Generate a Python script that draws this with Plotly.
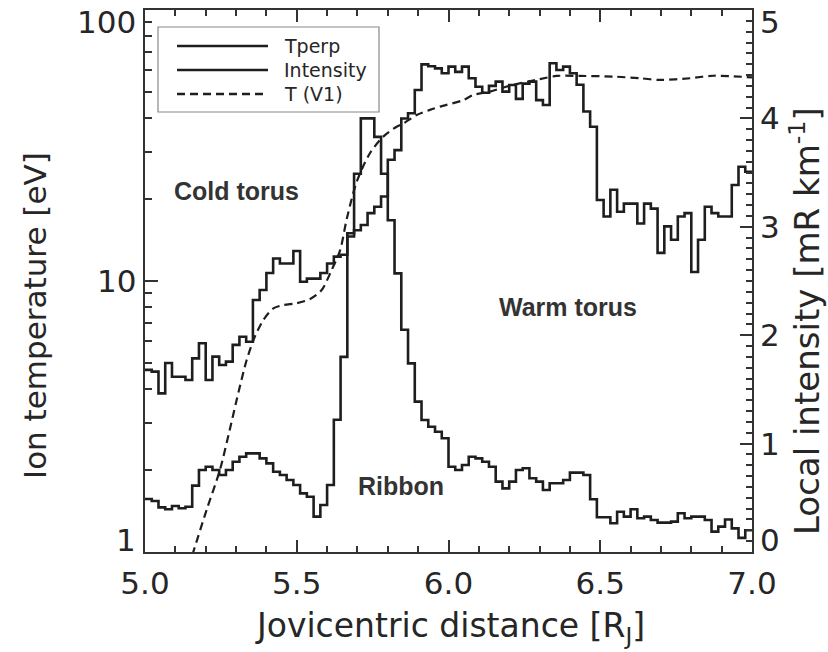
import math
import plotly.graph_objects as go

# ---------------- data ----------------
x_start, x_end = 5.0, 7.0

# Tperp [eV] per radial bin (stepped histogram, left log axis)
tperp = [4.7, 4.63, 3.85, 4.98, 4.43, 4.43, 4.31, 5.18, 5.89, 4.31,
         5.26, 4.90, 5.04, 5.81, 6.23, 5.97, 8.51, 9.26, 10.7, 12.1,
         11.6, 11.6, 12.9, 9.94, 10.2, 10.2, 10.7, 11.6, 12.3, 12.5,
         15.0, 15.4, 16.1, 17.8, 18.8, 20.5, 28.0, 30.4, 39.8, 41.6,
         50.7, 63.0, 62.0, 60.9, 58.4, 61.8, 59.1, 61.8, 56.0, 52.1,
         49.5, 52.5, 54.4, 50.0, 52.9, 47.0, 53.5, 54.4, 46.5, 44.6,
         63.6, 60.1, 61.8, 58.4, 53.0, 42.2, 37.1, 19.9, 17.3, 21.7,
         18.0, 19.3, 19.3, 16.3, 19.3, 18.5, 12.7, 15.9, 14.2, 17.3,
         17.8, 10.8, 14.2, 18.8, 17.8, 17.3, 17.3, 22.6, 26.4, 25.3]

# Local intensity [mR km^-1] per radial bin (stepped histogram, right axis)
intensity = [0.489, 0.470, 0.412, 0.394, 0.424, 0.403, 0.418, 0.612, 0.756, 0.787,
             0.756, 0.710, 0.756, 0.833, 0.879, 0.910, 0.910, 0.864, 0.818, 0.741,
             0.710, 0.664, 0.618, 0.541, 0.510, 0.326, 0.434, 0.618, 1.22, 1.80,
             2.91, 3.49, 4.00, 4.00, 3.83, 3.49, 3.06, 2.57, 2.05, 1.74,
             1.387, 1.218, 1.156, 1.110, 1.049, 0.787, 0.756, 0.803, 0.879, 0.864,
             0.833, 0.787, 0.649, 0.587, 0.649, 0.756, 0.772, 0.680, 0.649, 0.572,
             0.634, 0.634, 0.664, 0.732, 0.732, 0.710, 0.486, 0.320, 0.320, 0.265,
             0.372, 0.326, 0.394, 0.311, 0.326, 0.295, 0.271, 0.271, 0.280, 0.357,
             0.311, 0.326, 0.326, 0.295, 0.188, 0.234, 0.300, 0.218, 0.130, 0.200]

# T (V1) model curve
tv1_x = [5.13, 5.159, 5.203, 5.247, 5.280, 5.302, 5.335, 5.362, 5.390, 5.423,
         5.456, 5.500, 5.544, 5.582, 5.615, 5.643, 5.665, 5.698, 5.741, 5.785,
         5.829, 5.851, 5.895, 5.939, 5.972, 6.049, 6.082, 6.137, 6.200, 6.301,
         6.356, 6.433, 6.543, 6.631, 6.697, 6.796, 6.872, 7.0]
tv1_t = [0.79, 1.0, 1.43, 2.01, 2.85, 3.64, 5.11, 6.23, 7.18, 7.93,
         8.15, 8.28, 8.58, 9.26, 10.98, 13.0, 17.0, 23.3, 29.6, 34.1,
         37.1, 38.1, 41.0, 42.8, 44.0, 46.5, 48.6, 50.0, 52.5, 55.6,
         57.1, 57.1, 56.8, 56.0, 55.2, 56.0, 57.2, 56.4]

x_ticks = [5.0, 5.5, 6.0, 6.5, 7.0]
left_ticks = [1, 10, 100]
right_ticks = [0, 1, 2, 3, 4, 5]
# label anchor positions: the end labels sit just inside the frame, as in the original
left_label_pos = [1.107, 10, 90.3]
right_label_pos = [0.11, 1, 2, 3, 4, 4.89]


def step_xy(vals):
    n = len(vals)
    w = (x_end - x_start) / n
    xs = [x_start + i * w for i in range(n + 1)]
    ys = list(vals) + [vals[-1]]
    return xs, ys


FONT = "DejaVu Sans"
INK = "#1e1e1e"
TXT = "#262626"

fig = go.Figure()
tx, ty = step_xy(tperp)
fig.add_trace(go.Scatter(x=tx, y=ty, mode="lines", line=dict(shape="hv", color=INK, width=2.6),
                         name="Tperp", yaxis="y"))
ix, iy = step_xy(intensity)
fig.add_trace(go.Scatter(x=ix, y=iy, mode="lines", line=dict(shape="hv", color=INK, width=2.6),
                         name="Intensity", yaxis="y2"))
fig.add_trace(go.Scatter(x=tv1_x, y=tv1_t, mode="lines",
                         line=dict(shape="spline", smoothing=0.8, color=INK, width=2.2, dash="8px,5px"),
                         name="T (V1)", yaxis="y"))

L, R, T, B = 145, 76, 10, 100
W, H = 828, 652
pw, ph = W - L - R, H - T - B


def px(xp):
    return (xp - L) / pw


def py(yp):
    return (H - B - yp) / ph


frame = dict(showline=True, linewidth=2, linecolor="#333", showgrid=False, zeroline=False,
             ticks="inside", tickwidth=2, tickcolor="#333")
minor_log = [v * d for d in (1, 10) for v in range(2, 10)]

fig.update_layout(
    width=W, height=H,
    margin=dict(l=L, r=R, t=T, b=B, autoexpand=False),
    paper_bgcolor="white", plot_bgcolor="white",
    showlegend=False,
    font=dict(family=FONT, color=TXT),
    xaxis=dict(range=[x_start, x_end], tickvals=x_ticks, ticktext=[f"{v:.1f}" for v in x_ticks],
               ticklen=12, mirror="ticks", ticklabelstandoff=3,
               tickfont=dict(family=FONT, size=31, color=TXT),
               minor=dict(dtick=0.1, ticks="inside", ticklen=6, tickwidth=1.5, tickcolor="#333"),
               **frame),
    yaxis=dict(type="log", range=[0, 2], tickvals=left_ticks, showticklabels=False, ticklen=13,
               minor=dict(tickvals=minor_log, ticks="inside", ticklen=7, tickwidth=1.5, tickcolor="#333"),
               **frame),
    yaxis2=dict(overlaying="y", side="right", range=[0, 5], tickvals=right_ticks,
                showticklabels=False, ticklen=12,
                minor=dict(dtick=0.1, ticks="inside", ticklen=6, tickwidth=1.5, tickcolor="#333"),
                **frame),
)

# y tick labels (end labels kept inside the frame, as in the original)
for v, pos in zip(left_ticks, left_label_pos):
    fig.add_annotation(x=px(138), y=math.log10(pos), xref="paper", yref="y", text=str(v),
                       showarrow=False, xanchor="right", yanchor="middle",
                       font=dict(family=FONT, size=31, color=TXT))
for v, pos in zip(right_ticks, right_label_pos):
    fig.add_annotation(x=px(758), y=pos, xref="paper", yref="y2", text=str(v),
                       showarrow=False, xanchor="left", yanchor="middle",
                       font=dict(family=FONT, size=31, color=TXT))

# axis titles
fig.add_annotation(x=px(450), y=py(627), xref="paper", yref="paper", showarrow=False,
                   xanchor="center", yanchor="middle",
                   text="Jovicentric distance [R<sub>J</sub>]",
                   font=dict(family=FONT, size=33, color=TXT))
fig.add_annotation(x=px(35), y=py(316), xref="paper", yref="paper", showarrow=False, textangle=-90,
                   xanchor="center", yanchor="middle",
                   text="Ion temperature [eV]", font=dict(family=FONT, size=31, color=TXT))
fig.add_annotation(x=px(805), y=py(321), xref="paper", yref="paper", showarrow=False, textangle=-90,
                   xanchor="center", yanchor="middle",
                   text="Local intensity [mR km<sup>-1</sup>]", font=dict(family=FONT, size=34, color=TXT))

# region labels
labels = [("Cold torus", 5.303, 1.332), ("Warm torus", 6.394, 0.905), ("Ribbon", 5.843, 0.2435)]
for txt, xx, yy in labels:
    fig.add_annotation(x=xx, y=yy, xref="x", yref="y", text=f"<b>{txt}</b>", showarrow=False,
                       font=dict(family="Liberation Sans", size=25, color="#333"))

# legend drawn as a framed box
fig.add_shape(type="rect", xref="paper", yref="paper", x0=px(158), x1=px(379), y0=py(112), y1=py(27),
              line=dict(color="#888", width=1.2), fillcolor="white", layer="above")
leg_items = [("Tperp", None), ("Intensity", None), ("T (V1)", "8px,5px")]
for k, (name, dash) in enumerate(leg_items):
    yrow = 46 + 24 * k
    fig.add_shape(type="line", xref="paper", yref="paper", x0=px(177), x1=px(268), y0=py(yrow), y1=py(yrow),
                  line=dict(color=INK, width=2.4, dash=dash or "solid"), layer="above")
    fig.add_annotation(x=px(282), y=py(yrow), xref="paper", yref="paper", text=name, showarrow=False,
                       xanchor="left", yanchor="middle", font=dict(family=FONT, size=19, color=TXT))

fig.write_html("out.html")
